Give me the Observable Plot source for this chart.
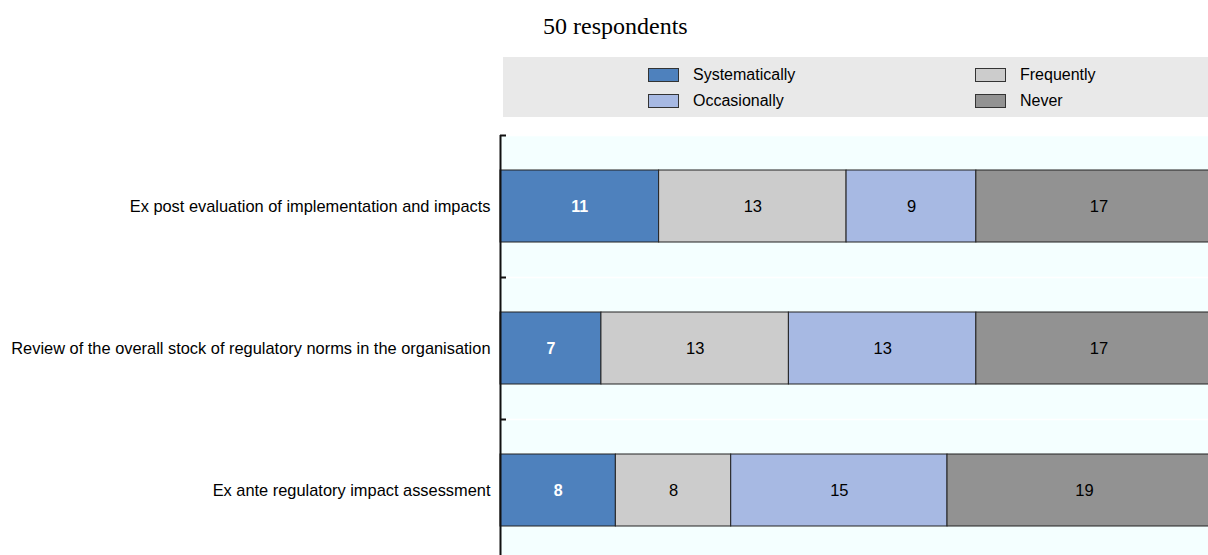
<!DOCTYPE html>
<html>
<head>
<meta charset="utf-8">
<script src="https://cdn.jsdelivr.net/npm/d3@7"></script>
<script src="https://cdn.jsdelivr.net/npm/@observablehq/plot@0.6"></script>
<style>
  html, body { margin: 0; padding: 0; background: #ffffff; overflow: hidden; }
  #chart { position: relative; width: 1208px; height: 555px; overflow: hidden;
           font-family: "Liberation Sans", Arial, Helvetica, sans-serif; }
  #title { position: absolute; left: 543px; top: 14px; font: 24px/24px "Liberation Serif", "Times New Roman", serif; color: #000; }
  #legend { position: absolute; left: 503px; top: 57px; width: 705px; height: 60px; background: #e9e9e9; }
  .item { position: absolute; display: flex; align-items: center; height: 16px; font-size: 16px; color: #000; }
  .swatch { width: 29px; height: 12px; border: 1px solid #333; margin-right: 14px; }
  #plot { position: absolute; left: 0; top: 125px; }
  #plot svg { max-width: none; overflow: hidden; }
</style>
</head>
<body>
<div id="chart">
  <div id="title">50 respondents</div>
  <div id="legend"></div>
  <div id="plot"></div>
</div>
<script>
// Practices, top to bottom
const categories = [
  "Ex post evaluation of implementation and impacts",
  "Review of the overall stock of regulatory norms in the organisation",
  "Ex ante regulatory impact assessment"
];

// Answer categories in stacking order (left to right)
const series = ["Systematically", "Frequently", "Occasionally", "Never"];
const seriesColors = ["#4e81bd", "#cccccc", "#a7b9e3", "#929292"];

// Number of respondents per answer, one value per practice
const systematically = [11, 7, 8];
const frequently = [13, 13, 8];
const occasionally = [9, 13, 15];
const never = [17, 17, 19];

// Legend reads in two columns
const legendOrder = ["Systematically", "Occasionally", "Frequently", "Never"];

const totalRespondents = 50;

const valuesBySeries = {
  Systematically: systematically,
  Frequently: frequently,
  Occasionally: occasionally,
  Never: never
};

const data = [];
categories.forEach((category, i) => {
  series.forEach(s => data.push({category, series: s, value: valuesBySeries[s][i]}));
});

// Legend
const legend = document.getElementById("legend");
legendOrder.forEach((name, i) => {
  const col = Math.floor(i / 2), row = i % 2;
  const item = document.createElement("div");
  item.className = "item";
  item.style.left = (145 + col * 327) + "px";
  item.style.top = (10 + row * 26) + "px";
  const sw = document.createElement("span");
  sw.className = "swatch";
  sw.style.background = seriesColors[series.indexOf(name)];
  const label = document.createElement("span");
  label.textContent = name;
  item.append(sw, label);
  legend.append(item);
});

// Plot geometry
const height = 436;
const marginTop = 10;
const marginBottom = 0;
const step = (height - marginTop - marginBottom) / categories.length;

const stackOpts = {x: "value", y: "category", z: "series", order: series};
const isFirst = d => d.series === series[0];

const chart = Plot.plot({
  width: 1208,
  height,
  marginLeft: 500,
  marginRight: -13,
  marginTop,
  marginBottom,
  style: {fontFamily: "'Liberation Sans', Arial, Helvetica, sans-serif", fontSize: "16px", background: "transparent"},
  x: {domain: [0, totalRespondents], axis: null},
  y: {domain: categories, paddingInner: 0.49, paddingOuter: 0.245, axis: null},
  color: {domain: series, range: seriesColors},
  marks: [
    Plot.frame({fill: "#f4ffff", stroke: null}),
    // faint separators between practices
    Plot.ruleY(categories, {y: d => d, dy: -step / 2, stroke: "#ffffff", strokeWidth: 1.5}),
    Plot.barX(data, Plot.stackX({...stackOpts, fill: "series", stroke: "#222", strokeWidth: 1})),
    // value labels: stacked over all answers first, then split by colour
    Plot.text(data, Plot.filter(isFirst, Plot.stackX({
      ...stackOpts,
      text: d => String(d.value),
      fill: "white",
      fontWeight: "bold",
      fontSize: 16
    }))),
    Plot.text(data, Plot.filter(d => !isFirst(d), Plot.stackX({
      ...stackOpts,
      text: d => String(d.value),
      fill: "black",
      fontSize: 16.5
    }))),
    Plot.ruleX([0], {stroke: "#111", strokeWidth: 2}),
    // category labels
    Plot.axisY({tickSize: 0, tickPadding: 10, fontSize: 16.4, fill: "black", label: null}),
    // inward ticks on the boundaries between practices
    Plot.axisY({text: null, label: null, tickSize: -6, dy: -step / 2, stroke: "#111", strokeWidth: 2})
  ]
});

document.getElementById("plot").append(chart);
</script>
</body>
</html>
